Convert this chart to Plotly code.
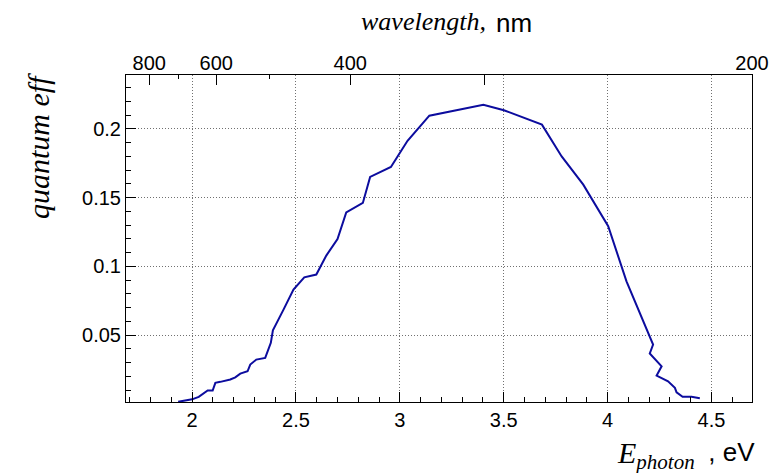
import plotly.graph_objects as go

# ---- data ----
e_photon = [1.933, 1.968, 2.000, 2.032, 2.053, 2.075, 2.099, 2.112, 2.136, 2.184,
            2.208, 2.232, 2.267, 2.280, 2.309, 2.352, 2.379, 2.389, 2.440, 2.488,
            2.540, 2.598, 2.646, 2.700, 2.742, 2.822, 2.857, 2.957, 3.037, 3.142,
            3.402, 3.501, 3.684, 3.779, 3.883, 3.907, 4.003, 4.091, 4.147, 4.219,
            4.203, 4.260, 4.236, 4.291, 4.324, 4.332, 4.361, 4.404, 4.444]
q_eff = [0.0015, 0.0026, 0.0033, 0.0051, 0.0073, 0.0097, 0.0097, 0.0153, 0.0160, 0.0177,
         0.0193, 0.0220, 0.0237, 0.0286, 0.0322, 0.0334, 0.0444, 0.0535, 0.0685, 0.0831,
         0.0920, 0.0940, 0.1078, 0.1199, 0.1392, 0.1461, 0.1650, 0.1722, 0.1913, 0.2095,
         0.2175, 0.2135, 0.2030, 0.1799, 0.1594, 0.1533, 0.1291, 0.0891, 0.0685, 0.0431,
         0.0366, 0.0273, 0.0206, 0.0164, 0.0116, 0.0084, 0.0051, 0.0051, 0.0041]

wl_major = [800, 600, 400, 300, 200]
wl_labels = ["800", "600", "400", "", "200"]
wl_minor = [700, 500]

# ---- layout geometry ----
W, H = 774, 473
ML, MR, MT, MB = 126, 22, 75, 71
PW, PH = W - ML - MR, H - MT - MB


def px(x):
    return (x - ML) / PW


def py(y):
    return 1 - (y - MT) / PH


# ROOT-like automatic ranges for a graph
xmin, xmax = min(e_photon), max(e_photon)
dx = xmax - xmin
xr = [xmin - 0.1 * dx, xmax + 0.1 * dx]
ymin, ymax = min(q_eff), max(q_eff)
yr = [0.9 * ymin, ymax + 0.1 * (ymax - ymin)]

# top wavelength axis (inverse wavelength scale, 1000/nm)
u_range = [1.105, 5.0]

fig = go.Figure()
fig.add_trace(go.Scatter(x=e_photon, y=q_eff, mode="lines",
                         line=dict(color="#0c0c9e", width=2),
                         showlegend=False, hoverinfo="skip"))
fig.add_trace(go.Scatter(x=u_range, y=[None, None], xaxis="x2", yaxis="y",
                         mode="lines", showlegend=False, hoverinfo="skip"))

sans = "Liberation Sans, Arial, sans-serif"
serif = "Liberation Serif, Times New Roman, serif"

axis_common = dict(ticks="inside", tickcolor="black", ticklen=10, tickwidth=1,
                   showline=True, linecolor="black", linewidth=1, mirror=True,
                   zeroline=False, showgrid=True, gridcolor="#707070",
                   griddash="1px,2px", gridwidth=1, automargin=False,
                   tickfont=dict(family=sans, size=20, color="black"))

fig.update_layout(
    template="none",
    width=W, height=H,
    margin=dict(l=ML, r=MR, t=MT, b=MB, autoexpand=False),
    paper_bgcolor="white", plot_bgcolor="white",
    xaxis=dict(range=xr, tickmode="linear", tick0=0, dtick=0.5,
               minor=dict(dtick=0.1, tick0=0, ticks="inside", ticklen=5,
                          tickcolor="black", showgrid=False),
               **axis_common),
    yaxis=dict(range=yr, tickmode="linear", tick0=0, dtick=0.05,
               minor=dict(dtick=0.01, tick0=0, ticks="inside", ticklen=5,
                          tickcolor="black", showgrid=False),
               **axis_common),
    xaxis2=dict(range=u_range, overlaying="x", side="top", anchor="y",
                tickmode="array", tickvals=[1000 / w for w in wl_major],
                ticktext=wl_labels, ticks="inside", ticklen=10, tickcolor="black",
                minor=dict(tickmode="array", tickvals=[1000 / w for w in wl_minor],
                           ticks="inside", ticklen=4, tickcolor="black", showgrid=False),
                showgrid=False, showline=False, zeroline=False, automargin=False,
                tickfont=dict(family=sans, size=20, color="black")),
)

ann = []
ann.append(dict(text="<i>wavelength,</i>", x=px(488), y=py(21), xref="paper", yref="paper",
                xanchor="right", yanchor="middle", showarrow=False,
                font=dict(family=serif, size=26, color="black")))
ann.append(dict(text="nm", x=px(494), y=py(23), xref="paper", yref="paper",
                xanchor="left", yanchor="middle", showarrow=False,
                font=dict(family=sans, size=26, color="black")))
ann.append(dict(text="<i>quantum eff</i>", x=px(38), y=py(146), xref="paper", yref="paper",
                xanchor="center", yanchor="middle", textangle=-90, showarrow=False,
                font=dict(family=serif, size=30, color="black")))
ann.append(dict(text="<i>E</i><sub><i>photon</i></sub>", x=px(697), y=py(455), xref="paper",
                yref="paper", xanchor="right", yanchor="middle", showarrow=False,
                font=dict(family=serif, size=30, color="black")))
ann.append(dict(text=" , eV", x=px(757), y=py(452), xref="paper", yref="paper",
                xanchor="right", yanchor="middle", showarrow=False,
                font=dict(family=sans, size=26, color="black")))
fig.update_layout(annotations=ann)

fig.write_html("out.html")
